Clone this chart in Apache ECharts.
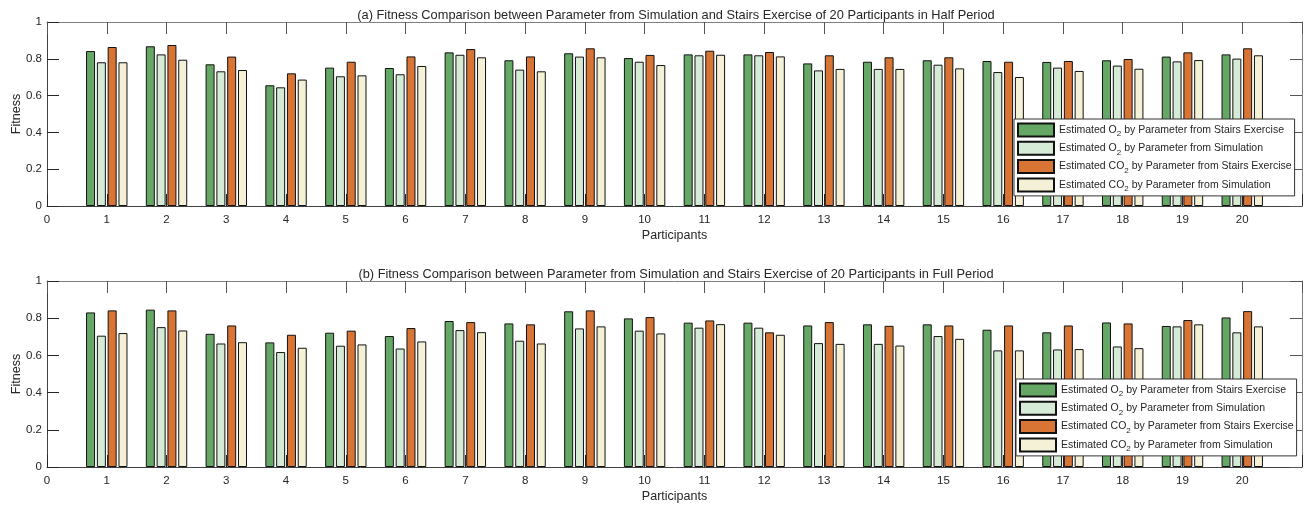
<!DOCTYPE html>
<html>
<head>
<meta charset="utf-8">
<script src="https://cdn.jsdelivr.net/npm/echarts@6/dist/echarts.min.js"></script>
<style>
html,body{margin:0;padding:0;background:#fff;}
#chart{width:1309px;height:506px;}
</style>
</head>
<body>
<div id="chart"></div>
<script>
// ---- data ----
var participants = [1,2,3,4,5,6,7,8,9,10,11,12,13,14,15,16,17,18,19,20];
var seriesNames = [
  'Estimated O2 by Parameter from Stairs Exercise',
  'Estimated O2 by Parameter from Simulation',
  'Estimated CO2 by Parameter from Stairs Exercise',
  'Estimated CO2 by Parameter from Simulation'
];
var titleHalf = '(a) Fitness Comparison between Parameter from Simulation and Stairs Exercise of 20 Participants in Half Period';
var titleFull = '(b) Fitness Comparison between Parameter from Simulation and Stairs Exercise of 20 Participants in Full Period';
var xTickLabels = ['0','1','2','3','4','5','6','7','8','9','10','11','12','13','14','15','16','17','18','19','20'];

// Half period
var halfO2Stairs = [0.842,0.868,0.770,0.656,0.752,0.750,0.835,0.792,0.830,0.804,0.824,0.824,0.775,0.784,0.792,0.788,0.783,0.792,0.812,0.824];
var halfO2Sim    = [0.781,0.824,0.732,0.645,0.705,0.716,0.822,0.741,0.812,0.784,0.819,0.819,0.737,0.745,0.768,0.728,0.752,0.763,0.786,0.801];
var halfCO2Stairs= [0.864,0.875,0.812,0.721,0.784,0.813,0.853,0.813,0.857,0.821,0.844,0.837,0.819,0.808,0.808,0.784,0.788,0.799,0.835,0.857];
var halfCO2Sim   = [0.781,0.795,0.739,0.687,0.710,0.761,0.808,0.732,0.808,0.766,0.822,0.813,0.745,0.745,0.748,0.701,0.734,0.746,0.793,0.819];

// Full period
var fullO2Stairs = [0.831,0.846,0.716,0.670,0.722,0.704,0.785,0.772,0.837,0.799,0.776,0.776,0.761,0.767,0.767,0.738,0.724,0.777,0.758,0.804];
var fullO2Sim    = [0.706,0.752,0.664,0.618,0.652,0.637,0.736,0.679,0.745,0.733,0.749,0.749,0.666,0.662,0.704,0.627,0.632,0.648,0.756,0.724];
var fullCO2Stairs= [0.842,0.842,0.761,0.711,0.733,0.747,0.779,0.767,0.842,0.806,0.788,0.724,0.779,0.759,0.761,0.761,0.761,0.772,0.790,0.838];
var fullCO2Sim   = [0.720,0.734,0.671,0.641,0.659,0.675,0.725,0.664,0.756,0.718,0.768,0.711,0.662,0.653,0.689,0.627,0.634,0.639,0.767,0.756];

var colors = ['#65A865','#D6EBD6','#D87434','#F5F1D6'];

// ---- chart ----
var FONT = 'Liberation Sans, Arial, Helvetica, sans-serif';
var TXT = '#262626';
var chart = echarts.init(document.getElementById('chart'), null, {renderer:'canvas'});

function pairs(vals){ return participants.map(function(p,i){ return [p, vals[i]]; }); }

function bottomX(gridIndex){
  return {
    type:'value', gridIndex:gridIndex, min:0, max:21, interval:1, position:'bottom',
    name:'Participants', nameLocation:'middle', nameGap:23, nameMoveOverlap:false,
    nameTextStyle:{fontFamily:FONT, fontSize:12.5, color:TXT},
    axisLine:{show:true, onZero:false, lineStyle:{color:'#404040', width:1}},
    axisTick:{show:true, inside:true, length:12, lineStyle:{color:'#262626'}},
    axisLabel:{fontFamily:FONT, fontSize:11.5, color:TXT, margin:8,
      formatter:function(v){ var i = Math.round(v); return i < xTickLabels.length ? xTickLabels[i] : ''; }},
    splitLine:{show:false}
  };
}
function topX(gridIndex){
  return {
    type:'value', gridIndex:gridIndex, min:0, max:21, interval:1, position:'top',
    axisLine:{show:true, onZero:false, lineStyle:{color:'#808080', width:1}},
    axisTick:{show:true, inside:true, length:12, lineStyle:{color:'#555'}},
    axisLabel:{show:false}, splitLine:{show:false}
  };
}
function leftY(gridIndex){
  return {
    type:'value', gridIndex:gridIndex, min:0, max:1, interval:0.2, position:'left',
    name:'Fitness', nameLocation:'middle', nameGap:24, nameRotate:90, nameMoveOverlap:false,
    nameTextStyle:{fontFamily:FONT, fontSize:12.5, color:TXT},
    axisLine:{show:true, onZero:false, lineStyle:{color:'#404040', width:1}},
    axisTick:{show:true, inside:true, length:12, lineStyle:{color:'#262626'}},
    axisLabel:{fontFamily:FONT, fontSize:11.5, color:TXT, margin:5},
    splitLine:{show:false}
  };
}
function rightY(gridIndex){
  return {
    type:'value', gridIndex:gridIndex, min:0, max:1, interval:0.2, position:'right',
    axisLine:{show:true, onZero:false, lineStyle:{color:'#808080', width:1}},
    axisTick:{show:true, inside:true, length:12, lineStyle:{color:'#555'}},
    axisLabel:{show:false}, splitLine:{show:false}
  };
}

function barSeries(name, vals, idx, axisIdx){
  return {
    name:name, type:'bar', xAxisIndex:axisIdx, yAxisIndex:axisIdx,
    data:pairs(vals), barWidth:9, barGap:'20%',
    itemStyle:{color:colors[idx], borderColor:'#111', borderWidth:1},
    emphasis:{disabled:true}, animation:false
  };
}

function legendFmt(name){
  return name.replace(/O2/, 'O{sub|2}');
}
function legend(left, top){
  return {
    orient:'vertical', left:left, top:top, data:seriesNames,
    itemWidth:36, itemHeight:13, itemGap:2.3, padding:[3,3,3,3],
    backgroundColor:'#fff', borderColor:'#333', borderWidth:1,
    icon:'rect', selectedMode:false,
    formatter:legendFmt,
    textStyle:{fontFamily:FONT, fontSize:10.5, color:TXT, lineHeight:16, verticalAlign:'middle',
      rich:{sub:{fontFamily:FONT, fontSize:8, color:TXT, lineHeight:8, verticalAlign:'bottom'}}}
  };
}

var option = {
  backgroundColor:'#fff',
  animation:false,
  title:[
    {text:titleHalf, left:671, top:4, textAlign:'center',
     textStyle:{fontFamily:FONT, fontSize:12.8, fontWeight:'normal', color:TXT}},
    {text:titleFull, left:671, top:263, textAlign:'center',
     textStyle:{fontFamily:FONT, fontSize:12.8, fontWeight:'normal', color:TXT}}
  ],
  grid:[
    {left:47, top:22, width:1255, height:184, outerBoundsMode:'none', containLabel:false},
    {left:47, top:281, width:1255, height:186, outerBoundsMode:'none', containLabel:false}
  ],
  legend:[legend(1014,119), legend(1016,379)],
  xAxis:[bottomX(0), topX(0), bottomX(1), topX(1)],
  yAxis:[leftY(0), rightY(0), leftY(1), rightY(1)],
  series:[
    barSeries(seriesNames[0], halfO2Stairs, 0, 0),
    barSeries(seriesNames[1], halfO2Sim, 1, 0),
    barSeries(seriesNames[2], halfCO2Stairs, 2, 0),
    barSeries(seriesNames[3], halfCO2Sim, 3, 0),
    barSeries(seriesNames[0], fullO2Stairs, 0, 2),
    barSeries(seriesNames[1], fullO2Sim, 1, 2),
    barSeries(seriesNames[2], fullCO2Stairs, 2, 2),
    barSeries(seriesNames[3], fullCO2Sim, 3, 2)
  ]
};
chart.setOption(option);
</script>
</body>
</html>
